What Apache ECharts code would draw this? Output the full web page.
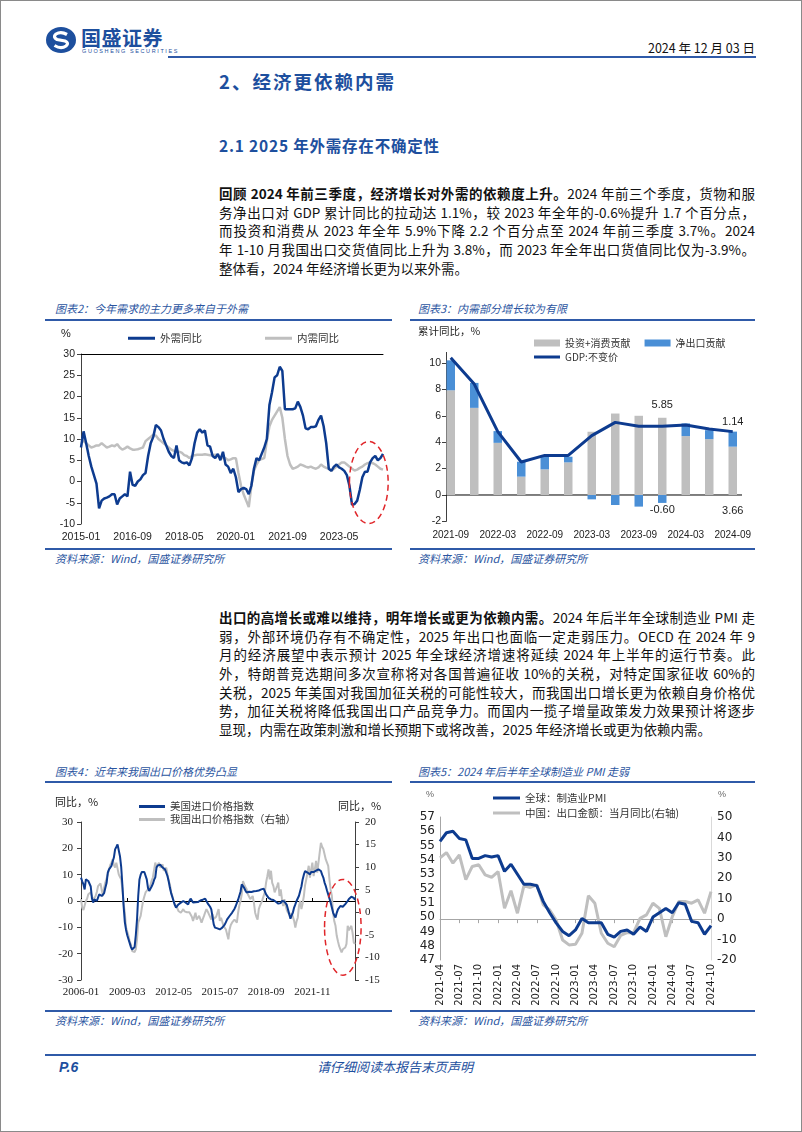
<!DOCTYPE html>
<html><head><meta charset="utf-8">
<script src="https://cdn.jsdelivr.net/npm/echarts@6/dist/echarts.min.js"></script>
<style>
html,body{margin:0;padding:0;background:#fff}
body{width:802px;height:1132px;position:relative;overflow:hidden;font-family:"Noto Sans CJK SC","Liberation Sans",sans-serif;color:#111}
#border{position:absolute;left:0;top:0;width:800px;height:1130px;border:1px solid #8a8a8a}
.abs{position:absolute}
.hl{position:absolute;background:#2f5aa8}
.para{position:absolute;left:219px;width:536px;font-size:13.5px}
.para div{height:18.7px;line-height:18.7px;white-space:nowrap;text-align:justify;text-align-last:justify}
.para div.last{text-align-last:left}
.ctitle{position:absolute;font-size:11px;font-style:italic;color:#2b559f;white-space:nowrap;line-height:14px}
.chart{position:absolute}
</style></head>
<body>
<div id="border"></div>
<!-- header -->
<svg class="abs" style="left:44px;top:25px" width="34" height="30" viewBox="0 0 34 30">
  <ellipse cx="17" cy="15" rx="15" ry="13" fill="#1d4f9e"/>
  <path d="M23 9.5 Q17 6 12 9 Q8.5 12 13 14.5 L21 16 Q25.5 18 22 21 Q17 24.5 10.5 20.5" stroke="#fff" stroke-width="3.2" fill="none"/>
</svg>
<div class="abs" style="left:81px;top:26px;font-size:20px;font-weight:bold;color:#1d4f9e;letter-spacing:0.5px;line-height:24px">国盛证券</div>
<div class="abs" style="left:82px;top:48px;font-size:5.5px;color:#1d4f9e;letter-spacing:1.6px;line-height:7px;font-family:'Liberation Sans'">GUOSHENG SECURITIES</div>
<div class="abs" style="right:47px;top:40px;font-size:12.5px;color:#111;line-height:16px">2024 年 12 月 03 日</div>
<div class="hl" style="left:168px;top:56px;width:588px;height:2px"></div>

<div class="abs" style="left:219px;top:70px;font-size:18.5px;font-weight:bold;color:#1d4f9e;line-height:22px;letter-spacing:2px">2、经济更依赖内需</div>
<div class="abs" style="left:219px;top:135px;font-size:15.5px;font-weight:bold;color:#1d4f9e;line-height:20px;letter-spacing:0.8px">2.1 2025 年外需存在不确定性</div>

<div class="para" style="top:184px">
<div><b>回顾 2024 年前三季度，经济增长对外需的依赖度上升。</b>2024 年前三个季度，货物和服</div>
<div>务净出口对 GDP 累计同比的拉动达 1.1%，较 2023 年全年的-0.6%提升 1.7 个百分点，</div>
<div>而投资和消费从 2023 年全年 5.9%下降 2.2 个百分点至 2024 年前三季度 3.7%。2024</div>
<div>年 1-10 月我国出口交货值同比上升为 3.8%，而 2023 年全年出口货值同比仅为-3.9%。</div>
<div class="last">整体看，2024 年经济增长更为以来外需。</div>
</div>

<!-- chart 2 / 3 frames -->
<div class="ctitle" style="left:55px;top:301px">图表2：今年需求的主力更多来自于外需</div>
<div class="hl" style="left:45px;top:319px;width:347px;height:2px"></div>
<div class="hl" style="left:45px;top:548px;width:347px;height:2px"></div>
<div class="ctitle" style="left:55px;top:551px">资料来源：Wind，国盛证券研究所</div>

<div class="ctitle" style="left:418px;top:301px">图表3：内需部分增长较为有限</div>
<div class="hl" style="left:410px;top:319px;width:345px;height:2px"></div>
<div class="hl" style="left:410px;top:548px;width:345px;height:2px"></div>
<div class="ctitle" style="left:418px;top:551px">资料来源：Wind，国盛证券研究所</div>

<div id="c2" class="chart" style="left:45px;top:322px;width:348px;height:226px"></div>
<div id="c3" class="chart" style="left:410px;top:322px;width:345px;height:226px"></div>

<div class="para" style="top:608px">
<div><b>出口的高增长或难以维持，明年增长或更为依赖内需。</b>2024 年后半年全球制造业 PMI 走</div>
<div>弱，外部环境仍存有不确定性，2025 年出口也面临一定走弱压力。OECD 在 2024 年 9</div>
<div>月的经济展望中表示预计 2025 年全球经济增速将延续 2024 年上半年的运行节奏。此</div>
<div>外，特朗普竞选期间多次宣称将对各国普遍征收 10%的关税，对特定国家征收 60%的</div>
<div>关税，2025 年美国对我国加征关税的可能性较大，而我国出口增长更为依赖自身价格优</div>
<div>势，加征关税将降低我国出口产品竞争力。而国内一揽子增量政策发力效果预计将逐步</div>
<div class="last">显现，内需在政策刺激和增长预期下或将改善，2025 年经济增长或更为依赖内需。</div>
</div>

<!-- chart 4 / 5 frames -->
<div class="ctitle" style="left:55px;top:764px">图表4：近年来我国出口价格优势凸显</div>
<div class="hl" style="left:45px;top:781px;width:347px;height:2px"></div>
<div class="hl" style="left:45px;top:1010px;width:347px;height:2px"></div>
<div class="ctitle" style="left:55px;top:1013px">资料来源：Wind，国盛证券研究所</div>

<div class="ctitle" style="left:418px;top:764px">图表5：2024 年后半年全球制造业 PMI 走弱</div>
<div class="hl" style="left:410px;top:781px;width:345px;height:2px"></div>
<div class="hl" style="left:410px;top:1010px;width:345px;height:2px"></div>
<div class="ctitle" style="left:418px;top:1013px">资料来源：Wind，国盛证券研究所</div>

<div id="c4" class="chart" style="left:45px;top:785px;width:348px;height:225px"></div>
<div id="c5" class="chart" style="left:410px;top:785px;width:345px;height:225px"></div>

<!-- footer -->
<div class="hl" style="left:45px;top:1054px;width:711px;height:2px"></div>
<div class="abs" style="left:59px;top:1058px;font-size:14px;font-weight:bold;font-style:italic;color:#1d4f9e;line-height:18px;font-family:'Liberation Sans'">P.6</div>
<div class="abs" style="left:317px;top:1058px;font-size:13px;font-style:italic;color:#1d4f9e;line-height:18px">请仔细阅读本报告末页声明</div>

<script>
// ---------------- data ----------------
// Chart 2: monthly, 2015-01 .. 2024-10
const c2Ext = [8,11.8,9,6,3.5,1.5,-0.5,-6.3,-4.5,-4,
-3.8,-3.5,-3,-3,-5.4,-4,-3.5,-3,-3.5,2.3,
-0.8,-1,0,0.5,1.5,2,6,9,10.5,13.3,
12.8,12,10,8.5,7,6,5.5,8.5,5,4.5,
4.3,4.5,3.8,5.5,9,11.5,12.3,11.5,12,8.5,
8.2,6,5.5,6.5,5,7,4,3.5,2,3,
1,-2.5,-1.8,-1.5,-1.8,-3,-1,3,5.5,5,
6.5,8,10,18,21,24.5,25,27,26,17,
17,17,17,17.2,18.8,17.5,15.5,12.5,12.3,12.8,
12.8,13,14.5,15.5,13,9,3,2.5,3.5,4,
3.3,3,2.5,1.5,-1,-5.5,-5.3,-4.5,-2,1,
2.3,2.3,4.5,5.5,6,5,5.5,6.5];
const c2Dom = [10,9.5,9,8.5,8,8.2,8.5,8.5,9,8.5,
8,8.2,8.5,8.3,8.8,8,7.5,7.8,8.2,7.8,
7.5,7.5,7.6,7.8,8,9.5,10,10.5,11,10.8,
10,9.5,9,8.5,8,7.5,7.2,7,7,6.8,
6.2,6,5.5,6,6.2,6.3,6.3,6.3,6.4,6.3,
6.2,6.2,6.3,6,5.8,5.5,5.5,5,5.2,5.5,
5.5,2,-1,-3,-4.5,-6,-1,2.5,4,5,
5.3,5.5,9.5,13,14.5,15.5,16.5,17.5,15,10,
6,4,3,3.2,3.5,4,3.8,3.5,3.3,3.5,
3.2,3,3.3,4,3.5,3.2,3,2.5,3,3.5,
4,4.5,4.5,4,3.5,3,2.6,2.8,3.2,3.5,
4,4.3,4.5,4.3,4,3.5,3,2.8];
const c2Ring = {from:104, to:119, top:9.4, bottom:-9.9};

// Chart 3: quarterly cumulative
const c3Quarters = ['2021-09','2021-12','2022-03','2022-06','2022-09','2022-12','2023-03','2023-06','2023-09','2023-12','2024-03','2024-06','2024-09'];
const c3InvCons = [7.93,6.6,3.95,1.39,1.94,2.47,4.79,6.17,6.0,5.85,4.46,4.23,3.66];
const c3NetExp  = [2.27,1.89,0.89,1.13,0.96,0.43,-0.33,-0.76,-0.88,-0.60,0.96,0.68,1.14];
const c3Gdp     = [10.4,8.4,4.8,2.5,3.0,3.0,4.5,5.5,5.2,5.2,5.3,5.0,4.8];
const c3InvLabels = {9:'top', 12:'bottom'};
const c3NetLabels = {9:'bottom', 12:'top'};

// Chart 4: monthly, 2006-01 .. 2024-10
const c4US = [8.9,7.5,6.3,4.4,8.2,7.8,7.6,7,5.5,1,
-0.6,0.6,0.2,0,1.3,2.5,2.2,1.9,2.5,3,
5,6.8,10.8,12,12.7,13.3,15,16.5,19.6,20.5,
21.5,20.9,17,13,6,-2,-8,-11,-13,-14.5,
-16,-17.5,-18.4,-19,-17.5,-13,-7,2,8.2,10,
11,11.2,11,10.5,8.2,5,3.8,4.1,5.5,6.5,
8,9,12.7,13.5,13.9,13.8,13.3,12.7,12.5,12,
11.4,9.5,7.5,5,3,1.5,0,-1.5,-2.5,-2,
-1.3,-1,-0.6,-0.5,0,0,-0.6,-1.3,-1.3,0,
0.9,0.5,-0.6,-0.6,-0.5,-0.4,-0.4,0,0.2,0.4,
0.5,0.9,0.9,0.2,-0.9,-1.5,-2.2,-3.2,-6,-8.9,
-10.1,-10.1,-10.4,-10.5,-10.8,-10.5,-10.1,-10.1,-9,-8,
-7,-6.3,-5.7,-5,-4.5,-3.8,-3,-2,-1.3,0.5,
2,3.5,6.3,5.8,5,4,3.2,3.4,3.5,3.3,
3.4,3.5,3.7,3.8,3.8,4,4,4.2,4.4,4.5,
4.7,4.2,2.5,1.8,1.2,0.9,0.6,0.5,0.4,0,
-0.3,-0.6,-1,-1.3,-0.8,0,0,-0.2,-0.4,-1.5,
-3.2,-5,-6.7,-5.5,-4.4,-2.5,-1.3,0,0.6,2,
3.8,5.5,8.2,10,11.4,11,10.8,10.5,10.1,11,
11.4,11,10.8,11.5,12,12,11.6,11.4,10,8.9,
7,5.7,4,2.5,1,-0.6,-2.5,-4.4,-5.5,-6.3,
-4.5,-3.2,-2.5,-1.9,-2,-2.2,-1.8,-1.2,-0.6,0,
0.8,1.3,1.6,1.9,1.2,0.4];
const c4CN = [2.9,1,0.5,0.1,2.5,3,4,4.2,4.4,3.5,
2.7,3,3.6,4.5,5.8,6.2,6.4,5,3.6,5.5,
6.6,7.5,8.4,9.5,10.5,11,11.7,10.5,9.9,11,
10.6,8.4,7.8,7.3,5,2,-0.1,-3.4,-4.3,-5.2,
-6.5,-7.1,-8.6,-8.9,-8.8,-8.2,-6,-2.3,-1.5,-0.8,
1,2.5,3.5,4.4,4.8,5.1,5.5,6,7,7.7,
7.7,11,10,9.9,11,9.9,10.2,10.6,9.2,9.5,
9.9,8.4,7,6.2,4.5,3.6,2.5,1.8,1.8,1,
0.3,0,-0.1,0.3,0.7,0.2,-0.1,0,0.3,0,
-0.4,-1,-1.9,-1,-0.1,-1.6,-1.2,-0.8,-1.5,-2.3,
-1.5,-0.8,0,0.7,0.2,-0.4,-1,-1.6,-0.4,-1.5,
-1.5,-1,-0.8,0.7,-1.9,-1.2,-0.8,-3,-3.4,-3.8,
-4.1,-6,-3.8,-2.8,-2.3,-2.7,-1.6,-2,-2.3,-0.1,
1.5,2.5,4,6.9,6.2,5.6,5.1,4,3.5,2.9,
3.3,3.6,2.1,-0.1,-1,-1.6,0.7,1.5,2.1,2.8,
3.2,4.5,6.6,8,9.5,7.3,9.2,6.5,5.8,4.4,
5.1,5.8,6.6,3.6,5.1,3,1.4,2.9,1.5,0.5,
-0.1,-0.5,-0.8,-0.1,-1,-1.9,-3.4,-2,-1.2,1.4,
2.5,0.7,2,3.6,6,7.3,8.8,10.3,7.7,9.5,
11,8,9.5,11.4,8.8,11,13.2,15.4,14.5,14,
14.3,11.7,11,10.3,7.3,5,3.6,-0.1,-2,-3,
-5.2,-6.4,-7.5,-8.2,-8.9,-8.2,-8,-7.8,-7,-3,
-4,-3.8,-3,-4.5,-6.7,-7];
const c4Ring = {from:200, to:230, top:8.2, bottom:-28.2};

// Chart 5: monthly, 2021-04 .. 2024-10
const c5Pmi = [55.3,55.9,56.0,55.5,55.4,54.1,54.1,54.3,54.2,
54.3,53.2,53.7,53.0,52.3,52.3,52.2,51.1,50.3,49.6,49.0,48.7,
49.1,49.9,49.6,49.6,49.6,48.8,48.6,49.0,49.1,48.8,49.3,49.0,
50.0,50.3,50.6,50.3,51.0,50.9,49.7,49.6,48.8,49.4];
const c5Exp = [30,32.6,27.4,31.5,19.3,25.8,26.6,21.7,20.5,
23.3,5.3,13.9,2.9,16.3,15.5,16.8,7.0,4.5,-0.4,-10.2,-12.6,
-12.3,-6.9,11.4,7.8,-6.9,-11.8,-13.5,-8,-6.6,-6.6,0.4,2.1,
7.8,5.3,-8.6,1.2,8.6,8.6,7.8,9.4,2.9,13.5];

// ---------------- helpers ----------------
function months(y, m, n){const o=[];for(let i=0;i<n;i++){const t=m-1+i;o.push((y+Math.floor(t/12))+'-'+String(t%12+1).padStart(2,'0'));}return o;}
const BLUE='#0d3b8f', GRAY='#bfbfbf', NBLUE='#4a8fd6', RED='#e0262a';
const CJK='"Noto Sans CJK SC", sans-serif';
const SANS='"Liberation Sans", Arial, sans-serif';
function lineItems(names){return names.map(n=>({name:n, icon:'rect'}));}
function ringGraphic(chart, n, ring){
  const p0 = chart.convertToPixel({xAxisIndex:0,yAxisIndex:0},[0,0]);
  const p1 = chart.convertToPixel({xAxisIndex:0,yAxisIndex:0},[n-1,0]);
  const per = (p1[0]-p0[0])/(n-1);
  const xl = p0[0]+ring.from*per, xr = p0[0]+ring.to*per;
  const yt = chart.convertToPixel({yAxisIndex:0}, ring.top);
  const yb = chart.convertToPixel({yAxisIndex:0}, ring.bottom);
  return {type:'ellipse', z:100, silent:true,
    shape:{cx:(xl+xr)/2, cy:(yt+yb)/2, rx:(xr-xl)/2, ry:(yb-yt)/2},
    style:{fill:'none', stroke:RED, lineWidth:1.5, lineDash:[6,4]}};
}

// ---------------- chart 2 ----------------
const c2Months = months(2015,1,c2Ext.length);
const ch2 = echarts.init(document.getElementById('c2'));
ch2.setOption({
  animation:false,
  textStyle:{fontFamily:SANS},
  grid:{left:36,top:32,width:302,height:170},
  legend:{left:78,top:6,itemWidth:27,itemHeight:3,itemGap:63,
    textStyle:{fontFamily:CJK,fontSize:10.5,color:'#333'},data:lineItems(['外需同比','内需同比'])},
  xAxis:[
    {type:'category',data:c2Months,boundaryGap:false,axisLine:{show:false},axisTick:{show:false},
     axisLabel:{interval:19,fontSize:10.5,color:'#222',margin:8,fontFamily:SANS}},
    {type:'category',data:c2Months,boundaryGap:false,axisLine:{show:true,onZero:true,lineStyle:{color:'#000',width:1}},
     axisTick:{show:false},axisLabel:{show:false}}
  ],
  yAxis:{type:'value',min:-10,max:30,interval:5,splitLine:{show:false},
    axisLine:{show:true,lineStyle:{color:'#404040'}},axisTick:{show:true,length:4,lineStyle:{color:'#404040'}},
    axisLabel:{fontSize:10.5,color:'#222',margin:6,fontFamily:SANS}},
  series:[
    {name:'外需同比',type:'line',data:c2Ext,symbol:'none',z:4,lineStyle:{width:2.5,color:BLUE},itemStyle:{color:BLUE}},
    {name:'内需同比',type:'line',data:c2Dom,symbol:'none',z:3,lineStyle:{width:2.5,color:GRAY},itemStyle:{color:GRAY}}
  ]
});
ch2.setOption({graphic:[{type:'text',left:16,top:6,style:{text:'%',fontSize:11,fill:'#222',fontFamily:SANS}}, ringGraphic(ch2,c2Ext.length,c2Ring)]});

// ---------------- chart 3 ----------------
const ch3 = echarts.init(document.getElementById('c3'));
const c3AxisX = 36; // y axis line position inside the container
function labelled(vals, spec, dist){
  return vals.map((v,i)=> spec[i] ? {value:v, label:{show:true, position:spec[i], distance:dist[spec[i]],
    formatter:(p)=>Number(p.value).toFixed(2), fontSize:11, color:'#222', fontFamily:SANS}} : v);
}
ch3.setOption({
  animation:false,
  textStyle:{fontFamily:SANS},
  grid:{left:29,top:30.4,width:305.5,height:169},
  legend:[
    {left:119,top:11,itemWidth:26,itemHeight:7,itemGap:14,icon:'rect',
     textStyle:{fontFamily:CJK,fontSize:10,color:'#333'},data:['投资+消费贡献','净出口贡献']},
    {left:119,top:25,itemWidth:26,itemHeight:3,icon:'rect',
     textStyle:{fontFamily:CJK,fontSize:10,color:'#333'},data:['GDP:不变价']}
  ],
  xAxis:{type:'category',data:c3Quarters,axisLine:{show:false},axisTick:{show:false},
    axisLabel:{interval:1,fontSize:10,color:'#222',margin:9,fontFamily:SANS}},
  yAxis:{type:'value',min:-2,max:10.8,interval:2,offset:-7,splitLine:{show:false},
    axisLine:{show:true,lineStyle:{color:'#404040'}},
    axisTick:{show:true,length:4,lineStyle:{color:'#404040'},customValues:[-2,0,2,4,6,8,10]},
    axisLabel:{fontSize:10.5,color:'#222',margin:5,customValues:[-2,0,2,4,6,8,10],
      formatter:(v)=> (Math.abs(v%2)<1e-9 ? String(v) : '')}},
  series:[
    {name:'投资+消费贡献',type:'bar',stack:'gdp',barWidth:8.5,itemStyle:{color:GRAY},
     data:labelled(c3InvCons,c3InvLabels,{top:7,bottom:10})},
    {name:'净出口贡献',type:'bar',stack:'gdp',barWidth:8.5,itemStyle:{color:NBLUE},
     data:labelled(c3NetExp,c3NetLabels,{top:4,bottom:2})},
    {name:'GDP:不变价',type:'line',data:c3Gdp,symbol:'none',z:5,lineStyle:{width:3,color:BLUE},itemStyle:{color:BLUE}}
  ]
});
(function(){
  const y0 = ch3.convertToPixel({yAxisIndex:0},0);
  ch3.setOption({graphic:[
    {type:'text',left:8,top:4,style:{text:'累计同比，%',fontSize:10.5,fill:'#222',fontFamily:CJK}},
    {type:'line',z:1,silent:true,shape:{x1:c3AxisX,y1:y0,x2:332,y2:y0},style:{stroke:'#000',lineWidth:1}}
  ]});
})();

// ---------------- chart 4 ----------------
const c4Months = months(2006,1,c4US.length);
const SERIF='"Liberation Serif","Times New Roman",serif';
const ch4 = echarts.init(document.getElementById('c4'));
ch4.setOption({
  animation:false,
  grid:{left:36,top:37,width:274,height:158},
  legend:{orient:'vertical',left:89,top:10,itemWidth:26,itemHeight:3,itemGap:0,
    textStyle:{fontFamily:CJK,fontSize:10.5,color:'#333',lineHeight:13},data:lineItems(['美国进口价格指数','我国出口价格指数（右轴）'])},
  xAxis:[
    {type:'category',data:c4Months,boundaryGap:false,axisLine:{show:false},axisTick:{show:false},
     axisLabel:{interval:37,fontSize:11,color:'#222',margin:7,fontFamily:SERIF}},
    {type:'category',data:c4Months,boundaryGap:false,axisLine:{show:true,onZero:true,onZeroAxisIndex:0,lineStyle:{color:'#000',width:1}},
     axisTick:{show:true,interval:37,length:3,lineStyle:{color:'#000'}},axisLabel:{show:false}}
  ],
  yAxis:[
    {type:'value',position:'left',min:-30,max:30,interval:10,splitLine:{show:false},
     axisLine:{show:true,lineStyle:{color:'#404040'}},axisTick:{show:true,length:4,lineStyle:{color:'#404040'}},
     axisLabel:{fontSize:11,color:'#222',margin:8,fontFamily:SERIF}},
    {type:'value',position:'right',min:-15,max:20,interval:5,splitLine:{show:false},
     axisLine:{show:true,lineStyle:{color:'#404040'}},axisTick:{show:true,length:4,lineStyle:{color:'#404040'}},
     axisLabel:{fontSize:11,color:'#222',margin:10,fontFamily:SERIF}}
  ],
  series:[
    {name:'美国进口价格指数',type:'line',data:c4US,symbol:'none',z:4,lineStyle:{width:2,color:BLUE},itemStyle:{color:BLUE}},
    {name:'我国出口价格指数（右轴）',type:'line',yAxisIndex:1,data:c4CN,symbol:'none',z:3,lineStyle:{width:2,color:GRAY},itemStyle:{color:GRAY}}
  ]
});
ch4.setOption({graphic:[
  {type:'text',left:10,top:11,style:{text:'同比，%',fontSize:11,fill:'#222',fontFamily:CJK}},
  {type:'text',left:293,top:15,style:{text:'同比，%',fontSize:11,fill:'#222',fontFamily:CJK}},
  ringGraphic(ch4,c4US.length,c4Ring)
]});

// ---------------- chart 5 ----------------
const c5Months = months(2021,4,c5Pmi.length);
const DV='"DejaVu Sans", Verdana, sans-serif';
const ch5 = echarts.init(document.getElementById('c5'));
ch5.setOption({
  animation:false,
  grid:{left:30,top:32,width:271,height:143},
  legend:{orient:'vertical',left:78,top:1,itemWidth:27,itemHeight:3,itemGap:1,
    textStyle:{fontFamily:CJK,fontSize:10.5,color:'#333',lineHeight:14},data:lineItems(['全球：制造业PMI','中国：出口金额：当月同比(右轴)'])},
  xAxis:{type:'category',data:c5Months,boundaryGap:false,
    axisLine:{show:true,lineStyle:{color:'#a6a6a6'}},
    axisTick:{show:true,interval:2,length:4,lineStyle:{color:'#a6a6a6'}},
    axisLabel:{interval:2,rotate:90,fontSize:10,color:'#222',margin:4,fontFamily:DV}},
  yAxis:[
    {type:'value',min:47,max:57,interval:1,splitLine:{show:false},
     axisLine:{show:true,lineStyle:{color:'#a6a6a6'}},axisTick:{show:false},
     axisLabel:{fontSize:12,color:'#222',margin:5,fontFamily:DV}},
    {type:'value',position:'right',min:-20,max:50,interval:10,splitLine:{show:false},
     axisLine:{show:true,lineStyle:{color:'#d9d9d9'}},axisTick:{show:false},
     axisLabel:{fontSize:12,color:'#222',margin:6,fontFamily:DV}}
  ],
  series:[
    {name:'全球：制造业PMI',type:'line',data:c5Pmi,symbol:'none',z:4,lineStyle:{width:3,color:BLUE},itemStyle:{color:BLUE}},
    {name:'中国：出口金额：当月同比(右轴)',type:'line',yAxisIndex:1,data:c5Exp,symbol:'none',z:3,lineStyle:{width:3,color:GRAY},itemStyle:{color:GRAY}}
  ],
  graphic:[
    {type:'text',left:16,top:5,style:{text:'%',fontSize:9,fill:'#666',fontFamily:SANS}},
    {type:'text',left:308,top:5,style:{text:'%',fontSize:9,fill:'#666',fontFamily:SANS}}
  ]
});
</script>
</body></html>
